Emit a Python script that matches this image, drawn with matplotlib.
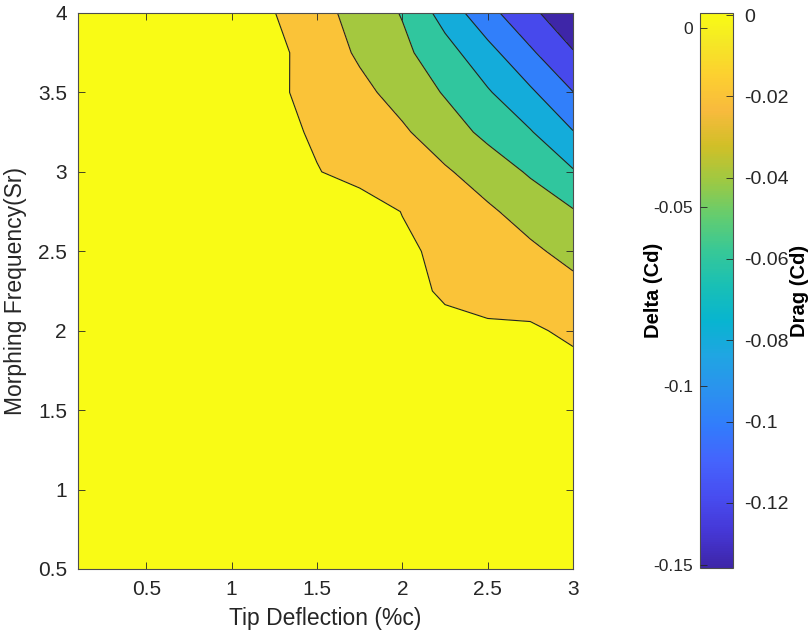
import numpy as np
import matplotlib
matplotlib.use('Agg')
import matplotlib.pyplot as plt
from matplotlib.colors import LinearSegmentedColormap, Normalize
from matplotlib.cm import ScalarMappable

plt.rcParams['font.family'] = ['Liberation Sans', 'DejaVu Sans']
plt.rcParams['axes.unicode_minus'] = False

# measurement grid
tip_deflection = [0.1, 0.5, 1.0, 1.25, 1.5, 1.75, 2.0, 2.25, 2.5, 2.75, 3.0]
morph_freq = [0.5, 1.0, 1.5, 1.75, 2.0, 2.25, 2.5, 2.75, 3.0, 3.25, 3.5, 3.75, 4.0]

# delta Cd, one row per morphing frequency (bottom to top)
delta_cd = [
    [0.0005, 0.0005, 0.0005, 0.0005, 0.0005, 0.0005, 0.0005, 0.0005, 0.0005, 0.0005, 0.0005],
    [0.0005, 0.0005, 0.0005, 0.0005, 0.0005, 0.0005, 0.0005, 0.0005, 0.0005, 0.0005, 0.0005],
    [0.0005, 0.0005, 0.0005, 0.0005, 0.0005, 0.0005, 0.0005, 0.0005, 0.0005, 0.0005, 0.0005],
    [0.0005, 0.0005, 0.0005, 0.0005, 0.0005, 0.0005, 0.0005, 0.0005, 0.0005, 0.0005, 0.0062],
    [0.0005, 0.0005, 0.0005, 0.0005, 0.0005, 0.0005, 0.0040, 0.0025, 0.0025, 0.0030, -0.0041],
    [0.0005, 0.0005, 0.0005, 0.0005, 0.0005, 0.0074, 0.0031, -0.0013, -0.0056, -0.0100, -0.0143],
    [0.0005, 0.0005, 0.0005, 0.0005, 0.0005, 0.0094, 0.0029, -0.0036, -0.0101, -0.0167, -0.0256],
    [0.0005, 0.0005, 0.0005, 0.0005, 0.0100, 0.0080, -0.0004, -0.0088, -0.0172, -0.0274, -0.0385],
    [0.0005, 0.0005, 0.0005, 0.0069, 0.0007, -0.0055, -0.0117, -0.0178, -0.0287, -0.0424, -0.0583],
    [0.0005, 0.0005, 0.0005, 0.0052, -0.0023, -0.0099, -0.0174, -0.0301, -0.0450, -0.0586, -0.0792],
    [0.0005, 0.0005, 0.0005, 0.0033, -0.0059, -0.0152, -0.0269, -0.0416, -0.0580, -0.0768, -0.0996],
    [0.0005, 0.0005, 0.0005, 0.0051, -0.0090, -0.0227, -0.0353, -0.0524, -0.0734, -0.0971, -0.1187],
    [0.0005, 0.0005, 0.0005, 0.0004, -0.0134, -0.0271, -0.0412, -0.0678, -0.0938, -0.1152, -0.1360],
]

contour_levels = [-0.12, -0.10, -0.08, -0.06, -0.04, -0.02, 0.0]

x_ticks = [0.5, 1, 1.5, 2, 2.5, 3]
x_ticklabels = ['0.5', '1', '1.5', '2', '2.5', '3']
y_ticks = [0.5, 1, 1.5, 2, 2.5, 3, 3.5, 4]
y_ticklabels = ['0.5', '1', '1.5', '2', '2.5', '3', '3.5', '4']

drag_ticks = [0, -0.02, -0.04, -0.06, -0.08, -0.1, -0.12]
drag_ticklabels = ['0', '-0.02', '-0.04', '-0.06', '-0.08', '-0.1', '-0.12']
delta_ticks = [0, -0.05, -0.1, -0.15]
delta_ticklabels = ['0', '-0.05', '-0.1', '-0.15']

# parula-like colormap (MATLAB default)
parula_pts = [
    (0.2422, 0.1504, 0.6603), (0.2706, 0.2147, 0.8364), (0.2813, 0.3006, 0.9414),
    (0.2699, 0.3892, 0.9906), (0.1963, 0.4847, 0.9892), (0.1687, 0.5703, 0.9359),
    (0.1248, 0.6459, 0.8883), (0.0297, 0.7082, 0.8163), (0.0964, 0.7500, 0.7120),
    (0.2161, 0.7843, 0.5923), (0.3909, 0.8029, 0.4354), (0.6174, 0.7876, 0.2612),
    (0.8203, 0.7498, 0.1535), (0.9728, 0.7298, 0.2394), (0.9892, 0.8136, 0.1885),
    (0.9597, 0.9135, 0.1423), (0.9769, 0.9839, 0.0805),
]
pos = [i * 4 / 63 for i in range(16)] + [1.0]
parula = LinearSegmentedColormap.from_list('parula', list(zip(pos, parula_pts)))

X, Y = np.meshgrid(tip_deflection, morph_freq)
Z = np.array(delta_cd)

# colour limits
norm = Normalize(vmin=-0.136, vmax=0.0005)

# MATLAB contourf paints each band with the colour of its lower level
fill_levels = [-0.14] + contour_levels + [0.02]
band_colors = [parula(norm(Z.min()))] + [parula(norm(v)) for v in contour_levels]

fig = plt.figure(figsize=(8.1, 6.43), dpi=100)
ax = fig.add_axes([78 / 810, 1 - 569 / 643, 495 / 810, 556 / 643])

ax.contourf(X, Y, Z, levels=fill_levels, colors=band_colors)
ax.contour(X, Y, Z, levels=contour_levels, colors='#222222', linewidths=0.8,
           linestyles='solid')

ax.set_xlim(0.1, 3)
ax.set_ylim(0.5, 4)
ax.set_xticks(x_ticks)
ax.set_xticklabels(x_ticklabels)
ax.set_yticks(y_ticks)
ax.set_yticklabels(y_ticklabels)
ax.tick_params(direction='in', top=True, right=True, length=5, width=0.6,
               color='#262626', labelcolor='#262626', labelsize=15, pad=8)
for s in ax.spines.values():
    s.set_color('#4d4d4d')
    s.set_linewidth(0.8)
ax.set_xlabel('Tip Deflection (%c)', fontsize=16.5, color='#262626', labelpad=6)
ax.set_ylabel('Morphing Frequency(Sr)', fontsize=16.5, color='#262626', labelpad=8)

# colorbar with drag ticks on the right
cax = fig.add_axes([700 / 810, 1 - 568 / 643, 33 / 810, 555 / 643])
cb = fig.colorbar(ScalarMappable(norm=norm, cmap=parula), cax=cax)
cb.set_ticks(drag_ticks)
cb.set_ticklabels(drag_ticklabels)
cb.outline.set_edgecolor('#4d4d4d')
cb.outline.set_linewidth(0.8)
cax.tick_params(direction='in', length=5, width=0.6, color='#262626',
                labelcolor='#262626', labelsize=14, pad=8)
cax.set_ylabel('Drag (Cd)', fontsize=14.5, fontweight='bold')
cax.yaxis.set_label_coords(2.72, 0.5)

# second scale on the left side for delta
dax = fig.add_axes([700 / 810, 1 - 568 / 643, 33 / 810, 555 / 643], frameon=False)
dax.patch.set_alpha(0)
dax.set_xticks([])
dax.set_ylim(-0.1508, 0.0042)
dax.set_yticks(delta_ticks)
dax.set_yticklabels(delta_ticklabels)
dax.tick_params(direction='in', length=5, width=0.6, color='#262626',
                labelcolor='#262626', labelsize=12.5, pad=5)
dax.set_ylabel('Delta (Cd)', fontsize=14.5, fontweight='bold')
dax.yaxis.set_label_coords(-1.12, 0.5)

fig.savefig('out.png', dpi=100)
